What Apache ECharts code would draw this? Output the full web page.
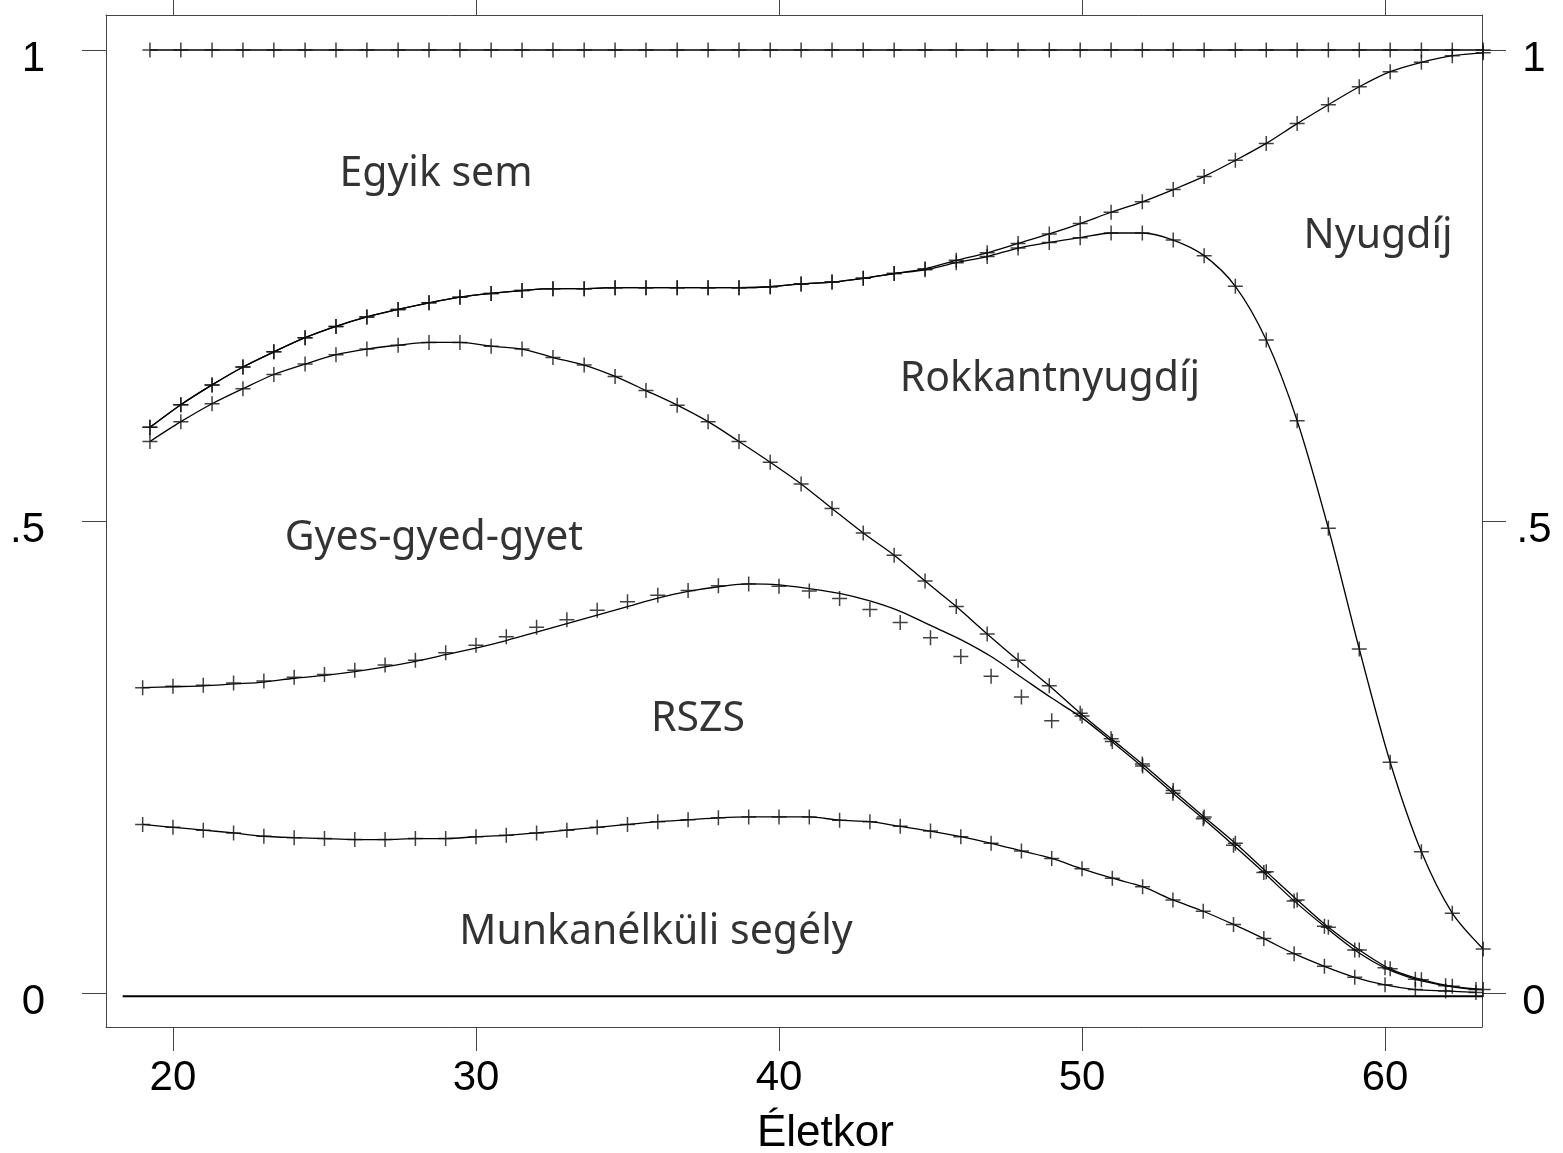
<!DOCTYPE html>
<html>
<head>
<meta charset="utf-8">
<title>Életkor</title>
<script src="https://cdn.jsdelivr.net/npm/echarts@6/dist/echarts.min.js"></script>
<style>
  html, body { margin: 0; padding: 0; background: #fff; }
  #chart { width: 1563px; height: 1153px; }
</style>
</head>
<body>
<div id="chart"></div>
<script>
// x positions of the markers on the three upper boundaries
const kAges = [19.24, 20.26, 21.29, 22.31, 23.33, 24.36, 25.38, 26.40, 27.43, 28.45,
  29.47, 30.50, 31.52, 32.54, 33.57, 34.59, 35.61, 36.64, 37.66, 38.68,
  39.71, 40.73, 41.75, 42.78, 43.80, 44.82, 45.85, 46.87, 47.89, 48.92,
  49.94, 50.96, 51.99, 53.01, 54.03, 55.06, 56.08, 57.10, 58.13, 59.15,
  60.17, 61.20, 62.22, 63.24];

// integer ages for the two lower boundaries
const ages = [19, 20, 21, 22, 23, 24, 25, 26, 27, 28, 29, 30, 31, 32, 33, 34, 35, 36, 37, 38,
  39, 40, 41, 42, 43, 44, 45, 46, 47, 48, 49, 50, 51, 52, 53, 54, 55, 56, 57, 58,
  59, 60, 61, 62, 63];

// cumulative shares (upper edge of each band)
const egyikSemTop = [1, 1, 1, 1, 1, 1, 1, 1, 1, 1, 1, 1, 1, 1, 1, 1, 1, 1, 1, 1, 1, 1,
  1, 1, 1, 1, 1, 1, 1, 1, 1, 1, 1, 1, 1, 1, 1, 1, 1, 1, 1, 1, 1, 1];

const nyugdijTop = [0.600, 0.624, 0.645, 0.664, 0.680, 0.695, 0.707, 0.717, 0.725, 0.732,
  0.738, 0.742, 0.745, 0.747, 0.747, 0.748, 0.748, 0.748, 0.748, 0.748,
  0.749, 0.752, 0.754, 0.758, 0.763, 0.768, 0.777, 0.785, 0.795, 0.805,
  0.816, 0.828, 0.839, 0.852, 0.866, 0.883, 0.901, 0.922, 0.942, 0.961,
  0.977, 0.987, 0.994, 0.997];

const rokkantTop = [0.600, 0.624, 0.645, 0.664, 0.680, 0.695, 0.707, 0.717, 0.725, 0.732,
  0.738, 0.742, 0.745, 0.747, 0.747, 0.748, 0.748, 0.748, 0.748, 0.748,
  0.749, 0.752, 0.754, 0.758, 0.763, 0.767, 0.7745, 0.781, 0.790, 0.796,
  0.801, 0.806, 0.806, 0.7985, 0.782, 0.7495, 0.6925, 0.607, 0.493, 0.365,
  0.245, 0.150, 0.085, 0.047];

const gyesTop = [0.585, 0.606, 0.625, 0.641, 0.656, 0.667, 0.677, 0.683, 0.687, 0.690,
  0.690, 0.686, 0.683, 0.674, 0.666, 0.654, 0.639, 0.6235, 0.606, 0.585,
  0.563, 0.540, 0.514, 0.488, 0.4645, 0.437, 0.410, 0.381, 0.353, 0.326,
  0.297, 0.270, 0.243, 0.215, 0.187, 0.159, 0.129, 0.099, 0.070, 0.046,
  0.026, 0.0145, 0.0074, 0.004];

// RSZS band: observed points and the smoothed curve
const rszsTopObs = [0.324, 0.3256, 0.3266, 0.329, 0.331, 0.335, 0.338, 0.3425, 0.348, 0.353,
  0.361, 0.369, 0.378, 0.388, 0.396, 0.406, 0.415, 0.422, 0.427, 0.432,
  0.434, 0.4316, 0.4266, 0.4186, 0.407, 0.393, 0.377, 0.357, 0.336, 0.314,
  0.289, 0.294, 0.267, 0.241, 0.212, 0.185, 0.157, 0.128, 0.098, 0.071,
  0.046, 0.027, 0.015, 0.008, 0.004];

const rszsTopFit = [0.324, 0.325, 0.326, 0.328, 0.330, 0.334, 0.337, 0.341, 0.346, 0.352,
  0.359, 0.366, 0.374, 0.383, 0.392, 0.401, 0.410, 0.419, 0.426, 0.431,
  0.434, 0.433, 0.429, 0.424, 0.416, 0.405, 0.390, 0.375, 0.357, 0.335,
  0.313, 0.292, 0.2665, 0.240, 0.212, 0.185, 0.157, 0.128, 0.098, 0.071,
  0.046, 0.027, 0.015, 0.008, 0.004];

const munkaTop = [0.179, 0.176, 0.173, 0.170, 0.1665, 0.165, 0.164, 0.163, 0.163, 0.164,
  0.164, 0.166, 0.1675, 0.170, 0.173, 0.176, 0.179, 0.182, 0.184, 0.186,
  0.187, 0.187, 0.187, 0.1835, 0.182, 0.177, 0.172, 0.166, 0.159, 0.151,
  0.143, 0.132, 0.122, 0.113, 0.099, 0.087, 0.073, 0.058, 0.042, 0.0286,
  0.017, 0.009, 0.004, 0.0025, 0.001];

// bottom edge line
const baseAges = [18.34, 63.73];
const baseShare = [-0.003, -0.003];

// band names and where they sit (age, share)
const bandNames = ['Egyik sem', 'Nyugdíj', 'Rokkantnyugdíj', 'Gyes-gyed-gyet', 'RSZS', 'Munkanélküli segély'];
const bandAge = [28.68, 59.77, 48.94, 28.61, 37.33, 35.94];
const bandShare = [0.868, 0.802, 0.651, 0.482, 0.291, 0.065];

const xTicks = [20, 30, 40, 50, 60];
const yTicks = [0, 0.5, 1];

const zip = (xs, ys) => xs.map((x, i) => [x, ys[i]]);
const plus = 'path://M45,0H55V45H100V55H55V100H45V55H0V45H45Z';
const ink = '#000';
const frame = '#444';

function curve(xs, ys) {
  return {
    type: 'line', data: zip(xs, ys), smooth: 0.3, symbol: 'none', clip: false,
    lineStyle: { color: ink, width: 1.3 }, silent: true, z: 3
  };
}
function marks(xs, ys) {
  return {
    type: 'scatter', data: zip(xs, ys), symbol: plus, symbolSize: 15, clip: false,
    itemStyle: { color: '#111' }, silent: true, z: 4
  };
}

const tickFont = { fontFamily: 'Liberation Sans, Arial, sans-serif', fontSize: 42, color: '#000' };
const yFmt = v => (v === 0.5 ? '.5' : String(v));

function xAx(pos, labels) {
  return {
    type: 'value', position: pos, min: 17.79, max: 63.2,
    axisLine: { show: true, onZero: false, lineStyle: { color: frame, width: 1 } },
    axisTick: { show: true, customValues: xTicks, length: 24, lineStyle: { color: frame } },
    axisLabel: Object.assign({ show: labels, customValues: xTicks, margin: 30 }, tickFont),
    splitLine: { show: false }
  };
}
function yAx(pos, extra) {
  return {
    type: 'value', position: pos, min: -0.0357, max: 1.0371,
    axisLine: { show: true, onZero: false, lineStyle: { color: frame, width: 1 } },
    axisTick: { show: true, customValues: yTicks, length: 24, lineStyle: { color: frame } },
    axisLabel: Object.assign({ customValues: yTicks, formatter: yFmt, verticalAlign: 'top', lineHeight: 18 }, tickFont, extra),
    splitLine: { show: false }
  };
}

const chart = echarts.init(document.getElementById('chart'), null, { renderer: 'canvas' });
chart.setOption({
  animation: false,
  backgroundColor: '#fff',
  grid: { left: 106, right: 81, top: 15, bottom: 126, containLabel: false },
  xAxis: [xAx('bottom', true), xAx('top', false)],
  yAxis: [yAx('left', { margin: 61 }), yAx('right', { margin: 52, align: 'center' })],
  graphic: [{
    type: 'text', left: 757, top: 1112,
    style: { text: 'Életkor', fontFamily: 'Liberation Sans, Arial, sans-serif', fontSize: 44, fill: '#000', textAlign: 'center' }
  }],
  series: [
    { type: 'line', data: zip(baseAges, baseShare), symbol: 'none', clip: false,
      lineStyle: { color: ink, width: 2 }, silent: true },
    curve(kAges, egyikSemTop), marks(kAges, egyikSemTop),
    curve(kAges, nyugdijTop), marks(kAges, nyugdijTop),
    curve(kAges, rokkantTop), marks(kAges, rokkantTop),
    curve(kAges, gyesTop), marks(kAges, gyesTop),
    curve(ages, rszsTopFit), marks(ages, rszsTopObs),
    curve(ages, munkaTop), marks(ages, munkaTop),
    {
      type: 'scatter', symbolSize: 1, silent: true, z: 5,
      itemStyle: { color: 'rgba(0,0,0,0)' },
      data: bandNames.map((n, i) => ({ name: n, value: [bandAge[i], bandShare[i]] })),
      label: {
        show: true, position: 'inside', formatter: p => p.name,
        fontFamily: 'Noto Sans, sans-serif', fontSize: 41, color: '#000'
      }
    }
  ]
});
</script>
</body>
</html>
